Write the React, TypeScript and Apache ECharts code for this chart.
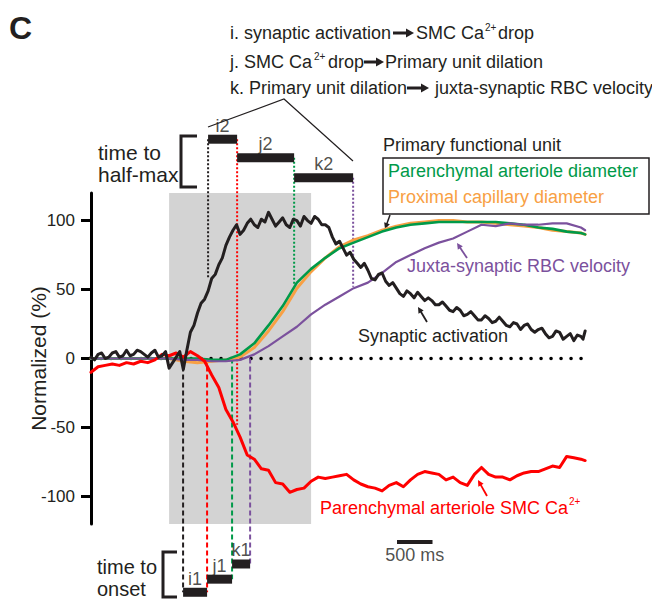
import React, { useEffect, useRef } from "react";
import * as echarts from "echarts";

const FONT = '"Liberation Sans", Arial, Helvetica, sans-serif';
const INK = "#231f20";
const RED = "#ff0000";
const GREEN = "#009a49";
const ORANGE = "#f8a044";
const PURPLE = "#7b519d";
const GRAY = "#d3d3d3";

// axes (time in ms, 0 = stimulus onset)
const X_MIN = -1100;
const X_MAX = 5900;
const Y_MIN = -120;
const Y_MAX = 120;
const yTicks = [-100, -50, 0, 50, 100];
const stimulusWindow = [0, 2000];

// synaptic activation (noisy, 50 ms sampling)
const synapticTimes = [
  -1100, -1050, -1000, -950, -900, -850, -800, -750, -700, -650, -600, -550,
  -500, -450, -400, -350, -300, -250, -200, -150, -100, -50,
  0, 50, 100, 150, 200, 250, 300, 350, 400, 450, 500, 550, 600, 650, 700, 750, 800, 850, 900, 950,
  1000, 1050, 1100, 1150, 1200, 1250, 1300, 1350, 1400, 1450, 1500, 1550, 1600, 1650, 1700, 1750, 1800, 1850, 1900, 1950,
  2000, 2050, 2100, 2150, 2200, 2250, 2300, 2350, 2400, 2450, 2500, 2550, 2600, 2650, 2700, 2750, 2800, 2850, 2900, 2950,
  3000, 3050, 3100, 3150, 3200, 3250, 3300, 3350, 3400, 3450, 3500, 3550, 3600, 3650, 3700, 3750, 3800, 3850, 3900, 3950,
  4000, 4050, 4100, 4150, 4200, 4250, 4300, 4350, 4400, 4450, 4500, 4550, 4600, 4650, 4700, 4750, 4800, 4850, 4900, 4950,
  5000, 5050, 5100, 5150, 5200, 5250, 5300, 5350, 5400, 5450, 5500, 5550, 5600, 5650, 5700, 5750, 5800, 5830, 5860,
];
const synapticActivation = [
  1, -1, 3, 4, 0, 1, 4, 5, 1, 2, 6, 2,
  3, 6, 5, 3, 1, 4, 6, 1, 2, 5,
  -7, -3, 1, 5, -8, 6, 19, 24, 33, 40, 43, 49, 58, 61, 68, 73, 82, 88, 93, 97,
  90, 93, 98, 101, 97, 95, 101, 99, 106, 101, 96, 99, 102, 97, 95, 101, 100, 96, 103, 100,
  98, 103, 101, 97, 97, 95, 88, 83, 85, 80, 75, 77, 72, 69, 66, 69, 64, 58, 57, 61,
  62, 56, 53, 55, 51, 47, 45, 49, 47, 44, 48, 45, 42, 44, 42, 39, 39, 41, 38, 35,
  34, 37, 35, 31, 32, 34, 31, 28, 28, 31, 29, 26, 27, 30, 27, 24, 23, 26, 25, 21,
  24, 25, 21, 19, 21, 22, 18, 15, 16, 20, 19, 14, 16, 18, 13, 17, 16, 14, 20,
];

// SMC Ca2+ (100 ms sampling)
const smcTimes = [
  -1100, -1000, -900, -800, -700, -600, -500, -400, -300, -200, -100,
  0, 100, 200, 300, 400, 500, 600, 700, 800, 900,
  1000, 1100, 1200, 1300, 1400, 1500, 1600, 1700, 1800, 1900,
  2000, 2100, 2200, 2300, 2400, 2500, 2600, 2700, 2800, 2900,
  3000, 3100, 3200, 3300, 3400, 3500, 3600, 3700, 3800, 3900,
  4000, 4100, 4200, 4300, 4400, 4500, 4600, 4700, 4800, 4900,
  5000, 5100, 5200, 5300, 5400, 5500, 5600, 5700, 5800, 5860,
];
const smcCalcium = [
  -10, -6, -5, -4, -5, -3, -4, -2, -3, -1, 3,
  2, 4, 1, 5, 2, -2, -12, -21, -37, -46,
  -57, -70, -73, -80, -81, -90, -91, -97, -95, -94,
  -89, -86, -87, -86, -85, -84, -88, -91, -93, -94,
  -96, -92, -90, -93, -88, -84, -82, -83, -84, -88,
  -86, -90, -92, -84, -79, -84, -86, -86, -88, -85,
  -83, -82, -82, -80, -78, -79, -71, -72, -73, -74,
];

// smooth traces
const smoothTimes = [
  -1100, -800, -400, 0, 200, 400, 600, 800, 1000, 1200, 1400, 1600, 1800,
  2000, 2200, 2400, 2600, 2800, 3000, 3200, 3400, 3600, 3800, 4000, 4200,
  4400, 4600, 4800, 5000, 5200, 5400, 5600, 5800, 5860,
];
const arterioleDiameter = [
  0, 0, 0, 0, 0, 0, -1, -1, 3, 11, 24, 38, 55,
  65, 73, 80, 84, 88, 92, 95, 97, 98, 99, 99, 99,
  99, 99, 98, 97, 95, 94, 92, 91, 90,
];
const capillaryDiameter = [
  0, 0, 0, 0, -2, -3, -2, -1, 1, 8, 20, 34, 51,
  63, 73, 81, 86, 89, 93, 96, 98, 99, 100, 100, 99,
  99, 98, 97, 96, 95, 93, 92, 91, 90,
];
const rbcVelocity = [
  0, 0, 0, 0, -1, -1, -2, -2, -1, 3, 9, 16, 23,
  32, 39, 45, 51, 55, 62, 70, 75, 80, 84, 87, 92,
  97, 96, 98, 97, 97, 98, 98, 95, 93,
];

// latencies: synaptic, SMC Ca, primary unit dilation, RBC velocity
const latencyColors = [INK, RED, GREEN, PURPLE];
const onsetTimes = [197, 535, 887, 1141];
const halfMaxTimes = [549, 958, 1761, 2592];
const halfMaxLevels = [59, -48, 54, 52];
const halfMaxRowOf = [0, 0, 1, 2];
const onsetRowOf = [0, 0, 1, 2];
const halfMaxRows = [159, 145.5, 131];
const onsetRows = [-169.5, -160, -149];
const halfMaxNames = ["i2", "j2", "k2"];
const onsetNames = ["i1", "j1", "k1"];
const scaleBarTimes = [3210, 3710];
const scaleBarLevel = -133;
const scaleBarText = "500 ms";

const pairs = (ts: number[], vs: number[]) => ts.map((t, i) => [t, vs[i]]);

const trace = (name: string, data: number[][], color: string, width: number, z: number) => ({
  type: "line",
  name,
  data,
  symbol: "none",
  showSymbol: false,
  silent: true,
  z,
  lineStyle: { color, width, join: "round", cap: "round" },
});

const segment = (data: number[][], color: string, width: number, type: any, z: number, cap = "butt") => ({
  type: "line",
  data,
  symbol: "none",
  showSymbol: false,
  silent: true,
  clip: false,
  z,
  lineStyle: { color, width, type, cap },
});

function txt(x: number, y: number, text: string, size = 18, color = INK, align = "left", weight = "normal") {
  return {
    type: "text",
    x,
    y,
    silent: true,
    style: {
      text,
      fill: color,
      fontSize: size,
      fontFamily: FONT,
      fontWeight: weight,
      align,
      verticalAlign: "middle",
      textAlign: align,
      textVerticalAlign: "middle",
    },
  };
}

function arrow(x1: number, y1: number, x2: number, y2: number, color: string, width: number, headLen: number, headW: number) {
  const dx = x2 - x1;
  const dy = y2 - y1;
  const len = Math.hypot(dx, dy);
  const ux = dx / len;
  const uy = dy / len;
  const px = -uy;
  const py = ux;
  const bx = x2 - ux * headLen;
  const by = y2 - uy * headLen;
  return [
    {
      type: "line",
      silent: true,
      shape: { x1, y1, x2: bx + ux, y2: by + uy },
      style: { stroke: color, lineWidth: width },
    },
    {
      type: "polygon",
      silent: true,
      shape: {
        points: [
          [x2, y2],
          [bx + (px * headW) / 2, by + (py * headW) / 2],
          [bx - (px * headW) / 2, by - (py * headW) / 2],
        ],
      },
      style: { fill: color },
    },
  ];
}

function buildOption() {
  const series: any[] = [];

  // stimulus window (gray)
  series.push({
    type: "line",
    data: [[0, 0]],
    symbol: "none",
    silent: true,
    z: 0,
    lineStyle: { opacity: 0 },
    markArea: {
      silent: true,
      itemStyle: { color: GRAY },
      data: [[{ xAxis: stimulusWindow[0] }, { xAxis: stimulusWindow[1] }]],
    },
  });

  // zero line
  series.push(segment([[X_MIN, 0], [smcTimes[smcTimes.length - 1], 0]], "#000", 3.5, [0.1, 9.9], 1, "round"));

  // latency verticals
  halfMaxTimes.forEach((t, i) => {
    series.push(
      segment([[t, halfMaxRows[halfMaxRowOf[i]]], [t, halfMaxLevels[i]]], latencyColors[i], 2, [2, 2], 2)
    );
  });
  onsetTimes.forEach((t, i) => {
    series.push(segment([[t, 0], [t, onsetRows[onsetRowOf[i]]]], latencyColors[i], 2, [5, 3], 2));
  });

  // traces
  series.push(trace("Proximal capillary diameter", pairs(smoothTimes, capillaryDiameter), ORANGE, 3, 3));
  series.push(trace("Parenchymal arteriole diameter", pairs(smoothTimes, arterioleDiameter), GREEN, 2.6, 4));
  series.push(trace("Juxta-synaptic RBC velocity", pairs(smoothTimes, rbcVelocity), PURPLE, 2.2, 5));
  series.push(trace("Parenchymal arteriole SMC Ca2+", pairs(smcTimes, smcCalcium), RED, 3, 6));
  series.push(trace("Synaptic activation", pairs(synapticTimes, synapticActivation), INK, 3, 7));

  // latency bars
  halfMaxNames.forEach((_, r) => {
    series.push(segment([[halfMaxTimes[r], halfMaxRows[r]], [halfMaxTimes[r + 1], halfMaxRows[r]]], INK, 9, "solid", 8));
  });
  onsetNames.forEach((_, r) => {
    series.push(segment([[onsetTimes[r], onsetRows[r]], [onsetTimes[r + 1], onsetRows[r]]], INK, 9, "solid", 8));
  });

  // bar labels
  const labelPoints = [
    ...halfMaxNames.map((n, r) => ({ name: n, value: [(halfMaxTimes[r] + halfMaxTimes[r + 1]) / 2, halfMaxRows[r]] })),
    ...onsetNames.map((n, r) => ({ name: n, value: [(onsetTimes[r] + onsetTimes[r + 1]) / 2, onsetRows[r]] })),
  ];
  series.push({
    type: "scatter",
    data: labelPoints,
    symbolSize: 1,
    clip: false,
    silent: true,
    z: 9,
    itemStyle: { color: "transparent" },
    label: {
      show: true,
      formatter: "{b}",
      position: "inside",
      offset: [0, -13.5],
      fontSize: 18,
      fontFamily: FONT,
      color: INK,
    },
  });

  // scale bar
  series.push(segment([[scaleBarTimes[0], scaleBarLevel], [scaleBarTimes[1], scaleBarLevel]], INK, 4, "solid", 8));
  series.push({
    type: "scatter",
    data: [{ name: scaleBarText, value: [(scaleBarTimes[0] + scaleBarTimes[1]) / 2, scaleBarLevel] }],
    symbolSize: 1,
    clip: false,
    silent: true,
    z: 9,
    itemStyle: { color: "transparent" },
    label: {
      show: true,
      formatter: "{b}",
      position: "inside",
      offset: [0, 13],
      fontSize: 18,
      fontFamily: FONT,
      color: INK,
    },
  });

  const graphic: any[] = [
    txt(9, 28, "C", 32, INK, "left", "bold"),

    // top explanation lines
    txt(230, 33, "i. synaptic activation"),
    ...arrow(393, 33, 414, 33, INK, 3, 8, 9),
    txt(416, 33, "SMC Ca"),
    txt(485, 27, "2+", 10),
    txt(498, 33, "drop"),

    txt(230, 62, "j. SMC Ca"),
    txt(314, 56, "2+", 10),
    txt(328, 62, "drop"),
    ...arrow(364, 62, 384, 62, INK, 3, 8, 9),
    txt(385, 62, "Primary unit dilation"),

    txt(230, 88, "k. Primary unit dilation"),
    ...arrow(407, 88, 429, 88, INK, 3, 8, 9),
    txt(435, 88, "juxta-synaptic RBC velocity"),

    {
      type: "polyline",
      silent: true,
      shape: { points: [[208, 127], [284, 99], [353, 161]] },
      style: { stroke: INK, lineWidth: 1.2, fill: null },
    },

    // time to half-max
    txt(98, 152, "time to", 21),
    txt(98, 174, "half-max", 21),
    {
      type: "polyline",
      silent: true,
      shape: { points: [[197, 136], [181, 136], [181, 187], [197, 187]] },
      style: { stroke: INK, lineWidth: 3, fill: null },
    },

    // time to onset
    txt(97, 567, "time to", 20),
    txt(97, 589, "onset", 20),
    {
      type: "polyline",
      silent: true,
      shape: { points: [[177, 552], [163, 552], [163, 597], [177, 597]] },
      style: { stroke: INK, lineWidth: 3, fill: null },
    },

    // primary functional unit legend
    txt(383, 145, "Primary functional unit"),
    {
      type: "rect",
      silent: true,
      shape: { x: 383, y: 158, width: 266, height: 56 },
      style: { stroke: INK, lineWidth: 1.5, fill: null },
    },
    txt(388, 171, "Parenchymal arteriole diameter", 18, GREEN),
    txt(388, 197, "Proximal capillary diameter", 18, ORANGE),
    ...arrow(390, 215, 385, 229, INK, 1.5, 6, 6),

    // curve labels
    txt(407, 266, "Juxta-synaptic RBC velocity", 18, PURPLE),
    ...arrow(467, 258, 457, 243, PURPLE, 1.8, 6, 6),
    txt(358, 336, "Synaptic activation", 18, INK),
    ...arrow(427, 322, 418, 307, INK, 1.8, 6, 6),
    txt(320, 508, "Parenchymal arteriole SMC Ca", 18, RED),
    txt(569, 501, "2+", 10, RED),
    ...arrow(487, 496, 478, 480, RED, 1.8, 6, 6),
  ];

  return {
    animation: false,
    backgroundColor: "#ffffff",
    grid: { left: 91, top: 193, width: 497, height: 331, containLabel: false },
    xAxis: { type: "value", min: X_MIN, max: X_MAX, show: false },
    yAxis: {
      type: "value",
      min: Y_MIN,
      max: Y_MAX,
      name: "Normalized (%)",
      nameLocation: "middle",
      nameRotate: 90,
      nameGap: 42,
      nameMoveOverlap: false,
      nameTextStyle: { fontSize: 21, color: INK, fontFamily: FONT },
      axisLine: { show: true, onZero: false, lineStyle: { color: "#000", width: 3 } },
      axisTick: { show: true, length: 10, customValues: yTicks, lineStyle: { color: "#000", width: 3 } },
      axisLabel: { customValues: yTicks, fontSize: 17, color: INK, fontFamily: FONT, margin: 16 },
      splitLine: { show: false },
    },
    series,
    graphic,
  };
}

export default function App() {
  const ref = useRef<HTMLDivElement>(null);
  useEffect(() => {
    document.body.style.margin = "0";
    const chart = echarts.init(ref.current as HTMLDivElement, null, { renderer: "svg", width: 652, height: 599 });
    chart.setOption(buildOption() as any);
    return () => chart.dispose();
  }, []);
  return <div ref={ref} style={{ width: 652, height: 599, position: "absolute", left: 0, top: 0 }} />;
}
